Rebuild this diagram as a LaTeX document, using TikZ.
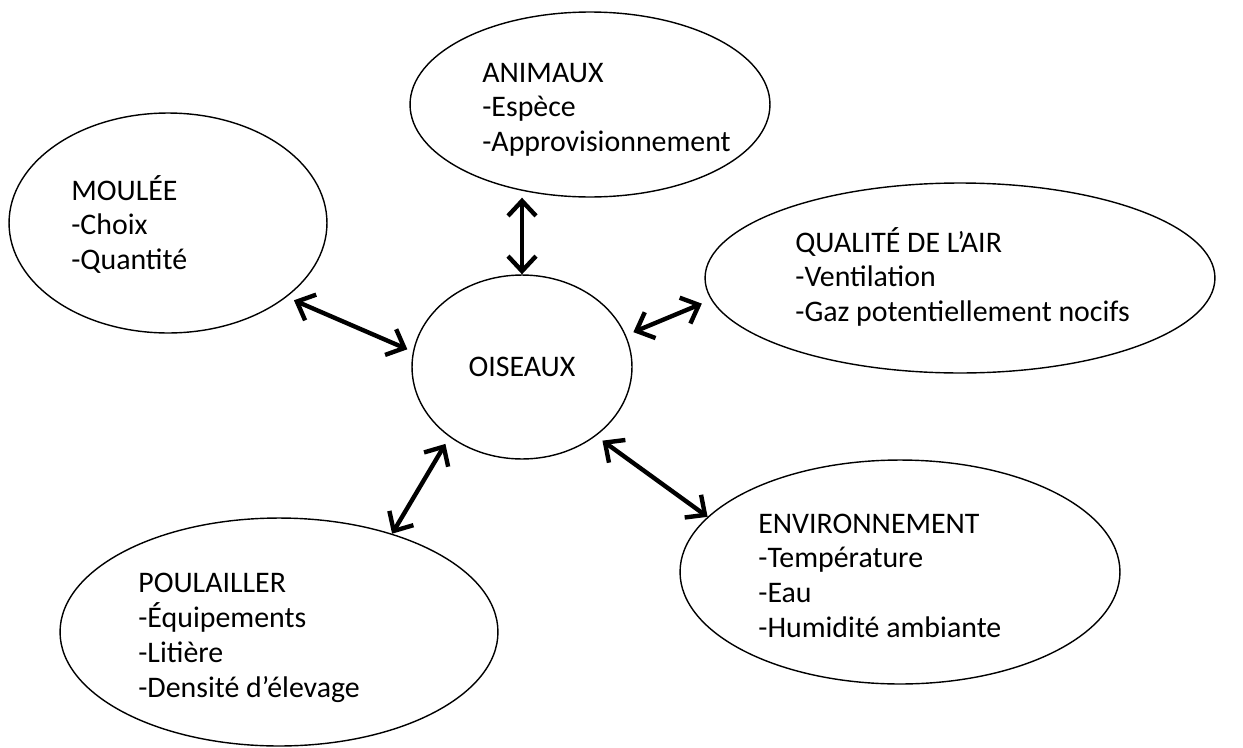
\documentclass[tikz,border=0pt]{standalone}
\usepackage{fontspec}
\setmainfont{Carlito}
\usetikzlibrary{arrows.meta,shapes.geometric}
\def\rubrique#1{\begin{tabular}[t]{@{}l@{}}#1\end{tabular}}

\begin{document}
\begin{tikzpicture}[x=0.02cm,y=-0.02cm,
		bulle/.style={draw,ellipse,line width=0.8pt,inner sep=0pt},
		texte/.style={anchor=base west,inner sep=0pt,font=\fontsize{17}{19.9}\selectfont},
		lien/.style={{Straight Barb[length=3mm,width=5.6mm]}-{Straight Barb[length=3mm,width=5.6mm]},line width=2.5pt}]
		%%%%% START %%%%%
		
		\useasboundingbox (0,0) rectangle (1243,747);
		
		\node[bulle,minimum width=7.2cm,minimum height=3.7cm] (animaux) at (590,104.5) {};
		\node[bulle,minimum width=6.36cm,minimum height=4.4cm] (moulee) at (168,223) {};
		\node[bulle,minimum width=10.2cm,minimum height=3.8cm] (qualite) at (960,278) {};
		\node[bulle,minimum width=4.4cm,minimum height=3.68cm,font=\fontsize{17}{19.9}\selectfont] (oiseaux) at (522,367) {OISEAUX};
		\node[bulle,minimum width=8.8cm,minimum height=4.48cm] (environnement) at (900,572) {};
		\node[bulle,minimum width=8.76cm,minimum height=4.56cm] (poulailler) at (279,632) {};
		
		\node[texte] (animauxtxt) at (482,82) {\rubrique{ANIMAUX\\-Espèce\\-Approvisionnement}};
		\node[texte] (mouleetxt) at (71,200) {\rubrique{MOULÉE\\-Choix\\-Quantité}};
		\node[texte] (qualitetxt) at (795,252) {\rubrique{QUALITÉ DE L’AIR\\-Ventilation\\-Gaz potentiellement nocifs}};
		\node[texte] (environnementtxt) at (758,533) {\rubrique{ENVIRONNEMENT\\-Température\\-Eau\\-Humidité ambiante}};
		\node[texte] (poulaillertxt) at (138,592) {\rubrique{POULAILLER\\-Équipements\\-Litière\\-Densité d’élevage}};
		
		\draw[lien] (oiseaux.north) -- (oiseaux.north |- animaux.south);
		\draw[lien,shorten <=0.16cm,shorten >=0.12cm] (moulee.-32.6) -- (oiseaux.172.6);
		\draw[lien,shorten <=0.2cm,shorten >=0.16cm] (qualite.185.6) -- (oiseaux.17);
		\draw[lien,shorten <=0.16cm] (oiseaux.-43.9) -- (environnement.164.4);
		\draw[lien,shorten <=0.16cm] (oiseaux.224.6) -- (poulailler.41.1);
		
		%%%%% END %%%%%
	\end{tikzpicture}
\end{document}
